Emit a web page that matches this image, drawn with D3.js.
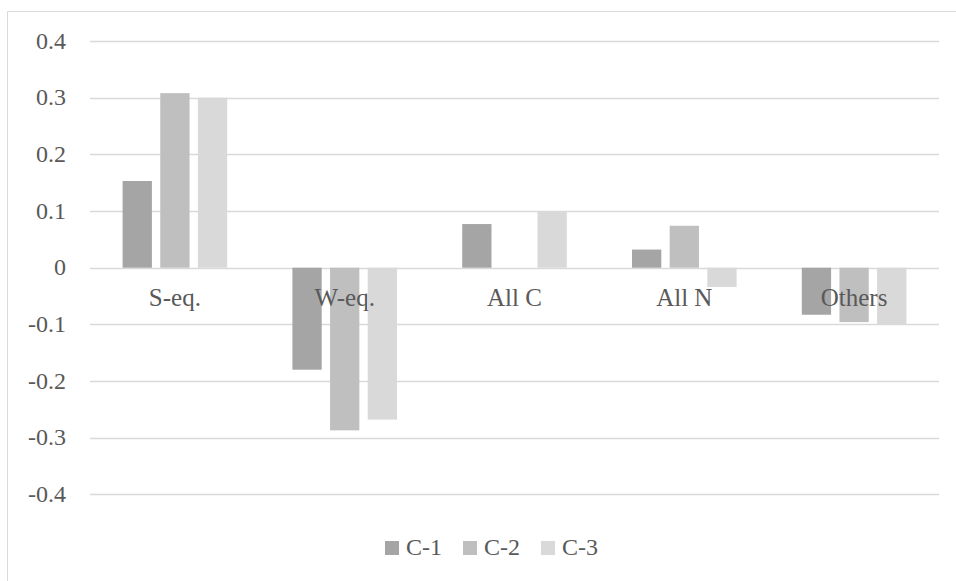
<!DOCTYPE html>
<html>
<head>
<meta charset="utf-8">
<script src="https://cdn.jsdelivr.net/npm/d3@7"></script>
<style>
  html, body { margin: 0; padding: 0; background: #fff; }
  svg { display: block; }
</style>
</head>
<body>
<svg id="chart" width="956" height="581"></svg>
<script>
// Category groups along the x axis
const categories = ["S-eq.", "W-eq.", "All C", "All N", "Others"];
// One value per category for each series
const seriesNames = ["C-1", "C-2", "C-3"];
const c1Values = [0.153, -0.180, 0.077, 0.032, -0.083];
const c2Values = [0.308, -0.287, 0.000, 0.074, -0.096];
const c3Values = [0.300, -0.268, 0.100, -0.034, -0.100];
const seriesColors = ["#a5a5a5", "#bfbfbf", "#d9d9d9"];
// Value axis ticks
const yTicks = [0.4, 0.3, 0.2, 0.1, 0, -0.1, -0.2, -0.3, -0.4];
const yTickLabels = ["0.4", "0.3", "0.2", "0.1", "0", "-0.1", "-0.2", "-0.3", "-0.4"];

const FONT = "'Liberation Serif', Tinos, 'Times New Roman', 'Noto Serif', 'DejaVu Serif', serif";
const TEXT_COLOR = "#595959";

const seriesValues = [c1Values, c2Values, c3Values];
const rows = categories.map((c, i) => ({
  category: c,
  values: seriesNames.map((s, k) => ({ series: s, value: seriesValues[k][i], color: seriesColors[k] }))
}));

const svg = d3.select("#chart").attr("font-family", FONT);
const plot = { left: 90, right: 939, top: 41, bottom: 494.4 };

// Outer frame (only top and left edges fall inside the view)
svg.append("path")
  .attr("d", `M7.5,581 V11.5 H956`)
  .attr("fill", "none")
  .attr("stroke", "#d9d9d9")
  .attr("stroke-width", 1);

const y = d3.scaleLinear().domain([-0.4, 0.4]).range([plot.bottom, plot.top]);
const x0 = d3.scaleBand().domain(categories).range([plot.left, plot.right]).paddingInner(0).paddingOuter(0);
const groupWidth = x0.bandwidth() * 0.616;
const x1 = d3.scaleBand().domain(seriesNames).range([0, groupWidth]).paddingInner(0.222).paddingOuter(0);

// Horizontal gridlines
svg.append("g")
  .selectAll("line")
  .data(yTicks)
  .join("line")
  .attr("x1", plot.left)
  .attr("x2", plot.right)
  .attr("y1", d => Math.round(y(d)) + 0.5)
  .attr("y2", d => Math.round(y(d)) + 0.5)
  .attr("stroke", "#d9d9d9")
  .attr("stroke-width", 1.3);

// Y axis labels
const yAxis = d3.axisLeft(y)
  .tickValues(yTicks)
  .tickFormat((d, i) => yTickLabels[i])
  .tickSize(0)
  .tickPadding(0);
const yAxisG = svg.append("g")
  .attr("transform", `translate(66,0)`)
  .call(yAxis)
  .attr("font-family", FONT)
  .attr("font-size", 24);
yAxisG.select(".domain").remove();
yAxisG.selectAll("text")
  .attr("font-family", FONT)
  .attr("fill", TEXT_COLOR)
  .attr("dy", "0.3em");

// Bars
const groups = svg.append("g")
  .selectAll("g")
  .data(rows)
  .join("g")
  .attr("transform", d => `translate(${x0(d.category) + (x0.bandwidth() - groupWidth) / 2},0)`);

groups.selectAll("rect")
  .data(d => d.values)
  .join("rect")
  .attr("x", d => x1(d.series))
  .attr("width", x1.bandwidth())
  .attr("y", d => Math.min(y(d.value), y(0)))
  .attr("height", d => Math.abs(y(d.value) - y(0)))
  .attr("fill", d => d.color);

// Category labels, placed just below the zero line
svg.append("g")
  .selectAll("text")
  .data(categories)
  .join("text")
  .attr("x", d => x0(d) + x0.bandwidth() / 2)
  .attr("y", 306)
  .attr("text-anchor", "middle")
  .attr("font-family", FONT)
  .attr("font-size", 25)
  .attr("fill", TEXT_COLOR)
  .text(d => d);

// Legend
const legendItems = [
  { name: "C-1", color: seriesColors[0], x: 385 },
  { name: "C-2", color: seriesColors[1], x: 463 },
  { name: "C-3", color: seriesColors[2], x: 541 }
];
const legend = svg.append("g");
legend.selectAll("rect")
  .data(legendItems)
  .join("rect")
  .attr("x", d => d.x)
  .attr("y", 541)
  .attr("width", 14)
  .attr("height", 14)
  .attr("fill", d => d.color);
legend.selectAll("text")
  .data(legendItems)
  .join("text")
  .attr("x", d => d.x + 21)
  .attr("y", 555)
  .attr("font-family", FONT)
  .attr("font-size", 24)
  .attr("fill", TEXT_COLOR)
  .text(d => d.name);
</script>
</body>
</html>
